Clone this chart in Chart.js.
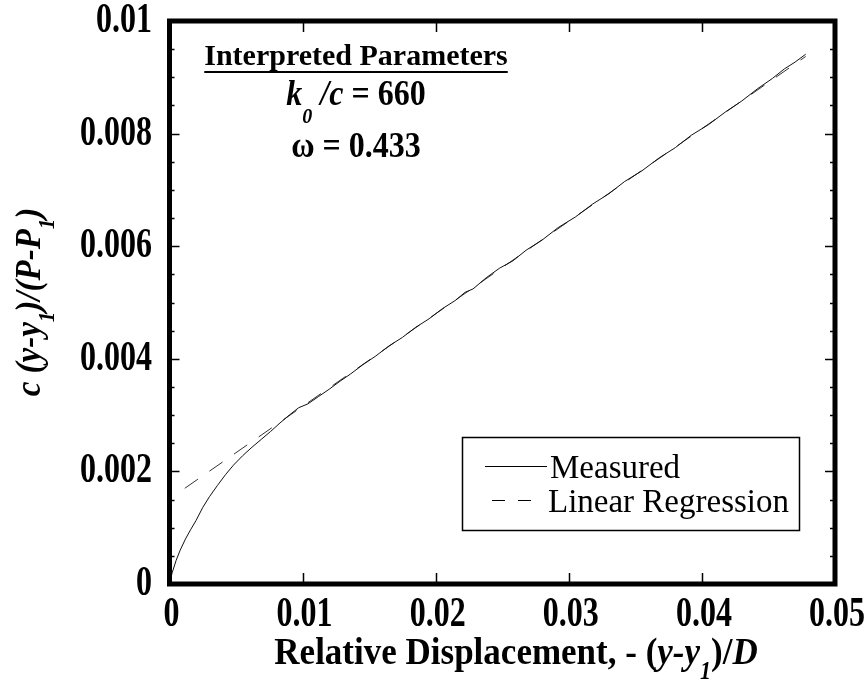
<!DOCTYPE html>
<html>
<head>
<meta charset="utf-8">
<script src="https://cdn.jsdelivr.net/npm/chart.js@4"></script>
<style>
  html, body { margin: 0; padding: 0; background: #fff; }
  #wrap { width: 868px; height: 694px; }
</style>
</head>
<body>
<div id="wrap"><canvas id="chart" width="868" height="694"></canvas></div>
<script>
// measured curve
var measuredX = [0, 0.0002, 0.0005, 0.0008, 0.0012, 0.0016, 0.002, 0.0025, 0.003, 0.0036, 0.0042, 0.0048,
  0.0055, 0.0062, 0.0069, 0.0076, 0.0083, 0.009, 0.0097, 0.0104, 0.0112, 0.012, 0.0128, 0.0136, 0.0145,
  0.0155, 0.0165, 0.0175, 0.0185, 0.0195, 0.0205, 0.0215, 0.0222, 0.0228, 0.0238, 0.0248, 0.0258, 0.0268,
  0.028, 0.0292, 0.0305, 0.0318, 0.033, 0.0342, 0.0355, 0.0368, 0.038, 0.0392, 0.0405, 0.0418, 0.043,
  0.0442, 0.0453, 0.0462, 0.047, 0.0478];
var measuredY = [0, 0.0002, 0.00042, 0.0006, 0.0008, 0.00097, 0.00113, 0.00136, 0.00155, 0.00175, 0.00194, 0.00211,
  0.00228, 0.00243, 0.00257, 0.00271, 0.00286, 0.003, 0.00313, 0.0032, 0.00333, 0.00346, 0.0036, 0.00373, 0.00389,
  0.00405, 0.00423, 0.00438, 0.00456, 0.00471, 0.00489, 0.00504, 0.00518, 0.00524, 0.00544, 0.00561, 0.00574, 0.00593,
  0.00611, 0.00633, 0.00652, 0.00675, 0.00693, 0.00715, 0.00734, 0.00757, 0.00775, 0.00797, 0.00816, 0.00839, 0.00858,
  0.0088, 0.00898, 0.00915, 0.00927, 0.00941];

// linear regression end points
var regressionX = [0.00115, 0.0478];
var regressionY = [0.0017, 0.00937];

var seriesLabels = ['Measured', 'Linear Regression'];
var xTickValues = [0, 0.01, 0.02, 0.03, 0.04, 0.05];
var xTickLabels = ['0', '0.01', '0.02', '0.03', '0.04', '0.05'];
var yTickValues = [0, 0.002, 0.004, 0.006, 0.008, 0.01];
var yTickLabels = ['0', '0.002', '0.004', '0.006', '0.008', '0.01'];

var SERIF = "'Liberation Serif', 'Times New Roman', serif";

function toPoints(xs, ys) {
  return xs.map(function (x, i) { return {x: x, y: ys[i]}; });
}

// draw a row of text pieces with their own fonts / baseline shifts,
// sy stretches the glyphs vertically like the original figure
function drawRuns(ctx, runs, x, y, align, sy) {
  var total = 0;
  runs.forEach(function (r) {
    ctx.font = r.font;
    r.w = ctx.measureText(r.t).width;
    total += r.w;
  });
  var cx = 0;
  if (align === 'center' || !align) cx = -total / 2;
  if (align === 'right') cx = -total;
  ctx.save();
  ctx.translate(x, y);
  ctx.scale(1, sy || 1);
  ctx.textAlign = 'left';
  ctx.textBaseline = 'alphabetic';
  runs.forEach(function (r) {
    ctx.font = r.font;
    ctx.fillText(r.t, cx, r.dy || 0);
    cx += r.w;
  });
  ctx.restore();
  return {left: x + (align === 'left' ? 0 : -total / 2), right: x + (align === 'left' ? total : total / 2)};
}

var framePlugin = {
  id: 'frame',
  afterDraw: function (chart) {
    var ctx = chart.ctx,
      a = chart.chartArea,
      xs = chart.scales.x,
      ys = chart.scales.y;

    ctx.save();
    ctx.strokeStyle = '#000';

    // y ticks, inward, both sides
    ctx.lineWidth = 1.5;
    for (var i = 0; i <= 20; i++) {
      var v = i * 0.0005,
        py = Math.round(ys.getPixelForValue(v)) + 0.5,
        len = (i % 4 === 0) ? 10 : 5;
      ctx.beginPath();
      ctx.moveTo(a.left, py); ctx.lineTo(a.left + len, py);
      ctx.moveTo(a.right, py); ctx.lineTo(a.right - len, py);
      ctx.stroke();
    }
    // x ticks, inward, top and bottom
    for (var j = 1; j < 5; j++) {
      var px = Math.round(xs.getPixelForValue(j * 0.01)) + 0.5;
      ctx.beginPath();
      ctx.moveTo(px, a.bottom); ctx.lineTo(px, a.bottom - 11);
      ctx.moveTo(px, a.top); ctx.lineTo(px, a.top + 11);
      ctx.stroke();
    }

    // heavy frame
    ctx.lineWidth = 5;
    ctx.strokeRect(a.left, a.top, a.right - a.left, a.bottom - a.top);

    ctx.fillStyle = '#000';

    // tick labels (tall, narrow serif like the source)
    var tf = 'bold 32px ' + SERIF;
    yTickValues.forEach(function (v, k) {
      drawRuns(ctx, [{t: yTickLabels[k], font: tf}], 152, ys.getPixelForValue(v) + 11, 'right', 1.3);
    });
    xTickValues.forEach(function (v, k) {
      drawRuns(ctx, [{t: xTickLabels[k], font: tf}], xs.getPixelForValue(v) + 2, 626, 'center', 1.3);
    });

    // annotation block
    var head = drawRuns(ctx, [{t: 'Interpreted Parameters', font: 'bold 30px ' + SERIF}], 356, 65);
    ctx.lineWidth = 2;
    ctx.beginPath();
    ctx.moveTo(head.left, 72); ctx.lineTo(head.right, 72);
    ctx.stroke();

    drawRuns(ctx, [
      {t: 'k', font: 'italic bold 32px ' + SERIF},
      {t: '0', font: 'italic bold 20px ' + SERIF, dy: 16},
      {t: ' /c', font: 'italic bold 32px ' + SERIF},
      {t: ' = 660', font: 'bold 32px ' + SERIF}
    ], 356, 105, 'center', 1.1);

    drawRuns(ctx, [{t: '\u03c9 = 0.433', font: 'bold 32px ' + SERIF}], 356, 157, 'center', 1.1);

    // x axis title
    drawRuns(ctx, [
      {t: 'Relative Displacement, - (', font: 'bold 35px ' + SERIF},
      {t: 'y-y', font: 'italic bold 35px ' + SERIF},
      {t: '1', font: 'italic bold 22px ' + SERIF, dy: 14},
      {t: ')/', font: 'bold 35px ' + SERIF},
      {t: 'D', font: 'italic bold 35px ' + SERIF}
    ], 516, 664, 'center', 1.1);

    // y axis title, rotated
    ctx.save();
    ctx.translate(40, 302);
    ctx.rotate(-Math.PI / 2);
    drawRuns(ctx, [
      {t: 'c', font: 'italic bold 33px ' + SERIF},
      {t: ' (y-y', font: 'italic bold 33px ' + SERIF},
      {t: '1', font: 'italic bold 21px ' + SERIF, dy: 13},
      {t: ')/(P-P', font: 'italic bold 33px ' + SERIF},
      {t: '1', font: 'italic bold 21px ' + SERIF, dy: 13},
      {t: ')', font: 'italic bold 33px ' + SERIF}
    ], 0, 0, 'center', 1.1);
    ctx.restore();

    // legend box
    var ds = chart.data.datasets;
    ctx.lineWidth = 1.5;
    ctx.strokeRect(462.5, 437.5, 337, 93);
    ctx.lineWidth = 1;
    ctx.beginPath();
    ctx.moveTo(485, 466.5); ctx.lineTo(547, 466.5);
    ctx.stroke();
    ctx.setLineDash([13, 13]);
    ctx.beginPath();
    ctx.moveTo(492, 500.5); ctx.lineTo(535, 500.5);
    ctx.stroke();
    ctx.setLineDash([]);
    drawRuns(ctx, [{t: ds[0].label, font: '33px ' + SERIF}], 550, 478, 'left', 1.05);
    drawRuns(ctx, [{t: ds[1].label, font: '33px ' + SERIF}], 548, 512, 'left', 1.05);

    ctx.restore();
  }
};

new Chart(document.getElementById('chart'), {
  type: 'scatter',
  data: {
    datasets: [
      {
        label: seriesLabels[0],
        data: toPoints(measuredX, measuredY),
        showLine: true,
        borderColor: '#111',
        borderWidth: 1,
        pointRadius: 0,
        tension: 0
      },
      {
        label: seriesLabels[1],
        data: toPoints(regressionX, regressionY),
        showLine: true,
        borderColor: '#333',
        borderWidth: 1,
        borderDash: [16, 14],
        pointRadius: 0
      }
    ]
  },
  options: {
    responsive: false,
    animation: false,
    layout: {padding: {left: 0, top: 21, right: 33, bottom: 0}},
    plugins: {legend: {display: false}, tooltip: {enabled: false}},
    scales: {
      x: {
        type: 'linear',
        min: 0,
        max: 0.05,
        afterFit: function (s) { s.height = 110; },
        grid: {display: false, drawTicks: false},
        border: {display: false},
        ticks: {stepSize: 0.01, display: false}
      },
      y: {
        type: 'linear',
        min: 0,
        max: 0.01,
        afterFit: function (s) { s.width = 169.5; },
        grid: {display: false, drawTicks: false},
        border: {display: false},
        ticks: {stepSize: 0.002, display: false}
      }
    }
  },
  plugins: [framePlugin]
});
</script>
</body>
</html>
